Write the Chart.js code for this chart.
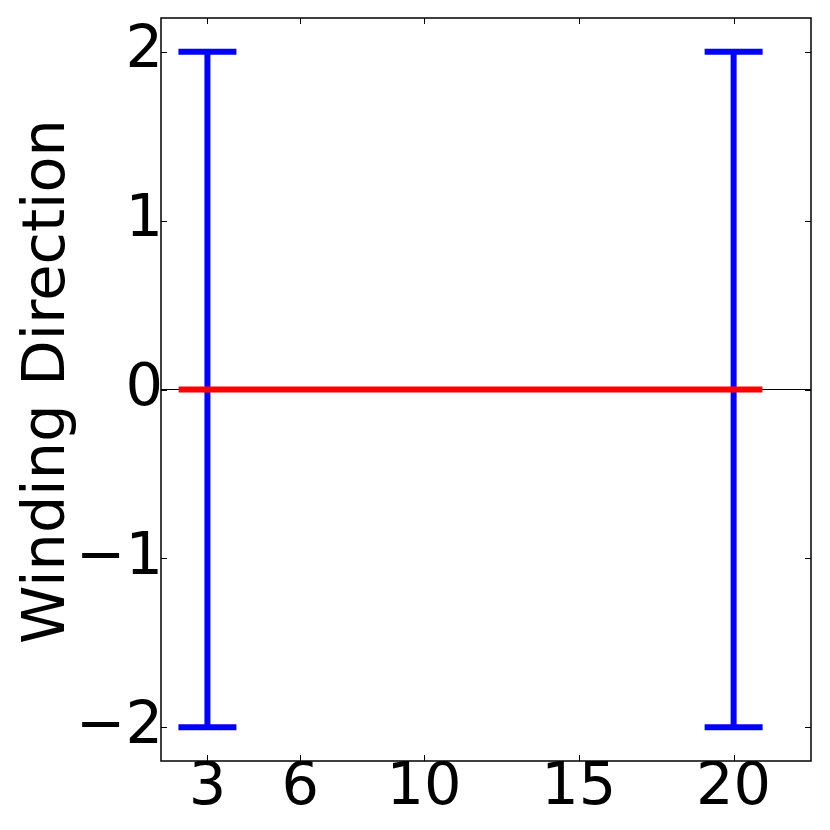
<!DOCTYPE html>
<html>
<head>
<meta charset="utf-8">
<script src="https://cdn.jsdelivr.net/npm/chart.js@4.4.0/dist/chart.umd.min.js"></script>
<style>
  html, body { margin: 0; padding: 0; background: #ffffff; }
  #wrap { width: 830px; height: 830px; }
</style>
</head>
<body>
<div id="wrap"><canvas id="chart" width="830" height="830"></canvas></div>
<script>
// Data
var barX = [3, 20];          // error bar positions
var barLow = [-2, -2];       // lower ends
var barHigh = [2, 2];        // upper ends
var redX = [2.07, 20.93];    // red horizontal line
var redY = [0, 0];
var zeroX = [1.5, 22.5];     // thin black line at y = 0
var zeroY = [0, 0];
var xTicks = [3, 6, 10, 15, 20];
var yTicks = [-2, -1, 0, 1, 2];
var xRange = [1.5, 22.5];
var yRange = [-2.2, 2.2];
var yTitle = 'Winding Direction';

var FONT = "'DejaVu Sans', sans-serif";

function pts(xs, ys) {
    return xs.map(function(x, i) { return { x: x, y: ys[i] }; });
}

// keep the plot box where it is: no auto padding for tick labels
function noPad(scale) {
    scale.paddingLeft = 0;
    scale.paddingRight = 0;
    scale.paddingTop = 0;
    scale.paddingBottom = 0;
}

// mpl-style frame: full box + inward ticks on all four sides, plus y label
var framePlugin = {
    id: 'frame',
    afterDatasetsDraw: function(chart) {
        var ctx = chart.ctx, a = chart.chartArea;
        var xs = chart.scales.x, ys = chart.scales.y;
        var len = 6;
        ctx.save();
        ctx.strokeStyle = '#000000';
        ctx.lineWidth = 1;
        ctx.beginPath();
        xTicks.forEach(function(v) {
            var px = Math.round(xs.getPixelForValue(v)) + 0.5;
            ctx.moveTo(px, a.bottom); ctx.lineTo(px, a.bottom - len);
            ctx.moveTo(px, a.top); ctx.lineTo(px, a.top + len);
        });
        yTicks.forEach(function(v) {
            var py = Math.round(ys.getPixelForValue(v)) + 0.5;
            ctx.moveTo(a.left, py); ctx.lineTo(a.left + len, py);
            ctx.moveTo(a.right, py); ctx.lineTo(a.right - len, py);
        });
        ctx.stroke();
        ctx.lineWidth = 1.5;
        ctx.strokeRect(a.left, a.top, a.right - a.left, a.bottom - a.top);

        // rotated y-axis label (mpl puts it slightly above the box centre)
        ctx.translate(64, (a.top + a.bottom) / 2 - 8);
        ctx.rotate(-Math.PI / 2);
        ctx.fillStyle = '#000000';
        ctx.font = '59px ' + FONT;
        ctx.textAlign = 'center';
        ctx.textBaseline = 'alphabetic';
        ctx.fillText(yTitle, 0, 0);
        ctx.restore();
    }
};

var datasets = [
    {
        label: 'red',
        data: pts(redX, redY),
        showLine: true,
        borderColor: '#ff0000',
        borderWidth: 6,
        pointRadius: 0,
        order: 0
    },
    {
        label: 'zero',
        data: pts(zeroX, zeroY),
        showLine: true,
        borderColor: '#000000',
        borderWidth: 1,
        pointRadius: 0,
        order: 3
    }
];

barX.forEach(function(x, i) {
    datasets.push({
        label: 'bar' + i,
        data: pts([x, x], [barLow[i], barHigh[i]]),
        showLine: true,
        borderColor: '#0000ff',
        borderWidth: 6,
        pointStyle: 'line',
        pointRadius: 29,
        pointBorderWidth: 6,
        pointBorderColor: '#0000ff',
        pointBackgroundColor: '#0000ff',
        order: 1
    });
});

var ctx = document.getElementById('chart').getContext('2d');
new Chart(ctx, {
    type: 'scatter',
    data: { datasets: datasets },
    options: {
        responsive: false,
        animation: false,
        events: [],
        layout: {
            autoPadding: false,
            padding: { top: 18, right: 19, bottom: 0, left: 0 }
        },
        plugins: {
            legend: { display: false },
            tooltip: { enabled: false }
        },
        scales: {
            x: {
                type: 'linear',
                min: xRange[0],
                max: xRange[1],
                grid: { display: false, drawTicks: false },
                border: { display: false },
                afterBuildTicks: function(scale) {
                    scale.ticks = xTicks.map(function(v) { return { value: v }; });
                },
                afterFit: function(scale) { scale.height = 69; noPad(scale); },
                ticks: {
                    autoSkip: false,
                    maxRotation: 0,
                    padding: -8,
                    color: '#000000',
                    font: { family: FONT, size: 59 },
                    callback: function(v) { return String(v); }
                }
            },
            y: {
                type: 'linear',
                min: yRange[0],
                max: yRange[1],
                grid: { display: false, drawTicks: false },
                border: { display: false },
                afterBuildTicks: function(scale) {
                    scale.ticks = yTicks.map(function(v) { return { value: v }; });
                },
                afterFit: function(scale) { scale.width = 161; noPad(scale); },
                ticks: {
                    autoSkip: false,
                    padding: -2,
                    color: '#000000',
                    font: { family: FONT, size: 59 },
                    callback: function(v) { return String(v).replace('-', '\u2212'); }
                },
                title: { display: false }
            }
        }
    },
    plugins: [framePlugin]
});
</script>
</body>
</html>
